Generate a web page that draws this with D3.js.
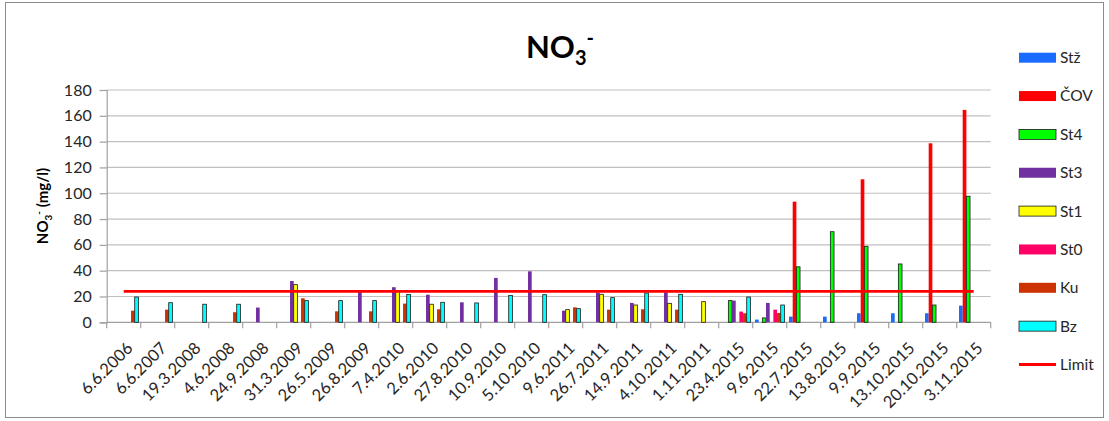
<!DOCTYPE html>
<html>
<head>
<meta charset="utf-8">
<script src="https://cdn.jsdelivr.net/npm/d3@7"></script>
<style>
  html, body { margin: 0; padding: 0; background: #fff; }
  svg { display: block; font-family: Lato, "Open Sans", sans-serif; }
</style>
</head>
<body>
<svg id="chart" width="1109" height="421"></svg>
<script>
// Sampling dates (categories)
const categories = [
  "6.6.2006", "6.6.2007", "19.3.2008", "4.6.2008", "24.9.2008", "31.3.2009",
  "26.5.2009", "26.8.2009", "7.4.2010", "2.6.2010", "27.8.2010", "10.9.2010",
  "5.10.2010", "9.6.2011", "26.7.2011", "14.9.2011", "4.10.2011", "1.11.2011",
  "23.4.2015", "9.6.2015", "22.7.2015", "13.8.2015", "9.9.2015", "13.10.2015",
  "20.10.2015", "3.11.2015"
];

// NO3- concentrations (mg/l) per sampling site; null = not sampled
const n = null;
const stz = [n, n, n, n, n, n, n, n, n, n, n, n, n, n, n, n, n, n, n, 2.1, 4.4, 4.4, 7.0, 7.0, 7.0, 12.9];
const cov = [n, n, n, n, n, n, n, n, n, n, n, n, n, n, n, n, n, n, n, n, 93.5, n, 110.8, n, 138.7, 164.6];
const st4 = [n, n, n, n, n, n, n, n, n, n, n, n, n, n, n, n, n, n, 16.8, 3.4, 43.0, 70.2, 58.9, 45.2, 13.4, 97.7];
const st3 = [n, n, n, n, 11.4, 32.0, n, 23.3, 27.2, 21.4, 15.5, 34.4, 39.5, 9.0, 23.3, 15.0, 23.3, n, 16.8, 15.0, n, n, n, n, n, n];
const st1 = [n, n, n, n, n, 29.2, n, n, 24.0, 14.0, n, n, n, 9.8, 21.7, 13.4, 14.7, 16.0, n, n, n, n, n, n, n, n];
const st0 = [n, n, n, n, n, n, n, n, n, n, n, n, n, n, n, n, n, n, 8.3, 9.8, n, n, n, n, n, n];
const ku  = [9.0, 9.8, n, 7.8, n, 18.6, 8.5, 8.5, 14.5, 10.1, n, n, n, 11.6, 9.8, 10.1, 9.8, n, 7.0, 7.2, n, n, n, n, n, n];
const bz  = [19.6, 15.2, 14.0, 14.0, n, 16.8, 16.8, 16.8, 21.5, 15.5, 15.0, 20.7, 21.4, 10.6, 19.1, 22.7, 21.7, n, 19.6, 13.4, n, n, n, n, n, n];

// Limit value (mg/l)
const limit = 24;

const seriesNames = ["Stž", "ČOV", "St4", "St3", "St1", "St0", "Ku", "Bz"];
const seriesValues = [stz, cov, st4, st3, st1, st0, ku, bz];
const seriesColors = ["#1a6cff", "#ff0000", "#00ff00", "#7030a0", "#ffff00", "#ff0066", "#cc3300", "#00ffff"];
const outlined = [false, false, true, false, true, false, false, true];

const yTicks = [0, 20, 40, 60, 80, 100, 120, 140, 160, 180];

const svg = d3.select("#chart");
const W = 1109, H = 421;
const plot = { left: 106.7, right: 990.7, top: 90, bottom: 322.3 };

// Chart frame
svg.append("rect")
  .attr("x", 5.5).attr("y", 2.5).attr("width", W - 11).attr("height", H - 6)
  .attr("fill", "#fff").attr("stroke", "#8c8c8c").attr("stroke-width", 1);

const x0 = d3.scaleBand().domain(categories).range([plot.left, plot.right]).paddingInner(0).paddingOuter(0);
const bw = x0.bandwidth();
const inset = bw * 0.068;
const x1 = d3.scaleBand().domain(seriesNames).range([inset, bw - inset]).padding(0);
const y = d3.scaleLinear().domain([0, 180]).range([plot.bottom, plot.top]);

// Gridlines
svg.append("g")
  .selectAll("line")
  .data(yTicks.filter(t => t > 0))
  .join("line")
  .attr("x1", plot.left).attr("x2", plot.right)
  .attr("y1", d => y(d)).attr("y2", d => y(d))
  .attr("stroke", "#c0c0c0").attr("stroke-width", 1.2);

// Y axis
const yAxis = svg.append("g")
  .attr("transform", `translate(${plot.left},0)`)
  .call(d3.axisLeft(y).tickValues(yTicks).tickSize(7).tickPadding(8));
yAxis.select(".domain").attr("stroke", "#a0a0a0").attr("stroke-width", 1.2);
yAxis.selectAll(".tick line").attr("stroke", "#a0a0a0").attr("stroke-width", 1.2);
yAxis.selectAll(".tick text")
  .attr("font-size", 16).attr("fill", "#262626")
  .attr("font-family", "Lato, sans-serif");

// X axis (category boundary ticks)
const xAxisG = svg.append("g");
xAxisG.append("line")
  .attr("x1", plot.left).attr("x2", plot.right)
  .attr("y1", plot.bottom).attr("y2", plot.bottom)
  .attr("stroke", "#a0a0a0").attr("stroke-width", 1.2);
const boundaries = categories.map(c => x0(c)).concat([x0(categories[categories.length - 1]) + bw]);
xAxisG.selectAll("line.tk")
  .data(boundaries)
  .join("line")
  .attr("class", "tk")
  .attr("x1", d => d).attr("x2", d => d)
  .attr("y1", plot.bottom).attr("y2", plot.bottom + 6)
  .attr("stroke", "#a0a0a0").attr("stroke-width", 1.2);
xAxisG.selectAll("text")
  .data(categories)
  .join("text")
  .attr("transform", d => `translate(${x0(d) + bw / 2 + 10},${plot.bottom + 27}) rotate(-45)`)
  .attr("text-anchor", "end")
  .attr("font-size", 16.5)
  .attr("fill", "#262626")
  .text(d => d);

// Bars
const barData = [];
seriesNames.forEach((s, si) => {
  seriesValues[si].forEach((v, ci) => {
    if (v != null) barData.push({ s, si, c: categories[ci], v });
  });
});
svg.append("g")
  .selectAll("rect")
  .data(barData)
  .join("rect")
  .attr("x", d => x0(d.c) + x1(d.s))
  .attr("y", d => y(d.v))
  .attr("width", x1.bandwidth())
  .attr("height", d => y(0) - y(d.v))
  .attr("fill", d => seriesColors[d.si])
  .attr("stroke", d => outlined[d.si] ? "#1a1a1a" : "none")
  .attr("stroke-width", 0.8);

// Limit line
svg.append("line")
  .attr("x1", x0(categories[0]) + bw / 2)
  .attr("x2", x0(categories[categories.length - 1]) + bw / 2)
  .attr("y1", y(limit)).attr("y2", y(limit))
  .attr("stroke", "#ff0000").attr("stroke-width", 2.8);

// Title
const title = svg.append("text")
  .attr("x", 560).attr("y", 58)
  .attr("text-anchor", "middle")
  .attr("font-size", 31).attr("font-weight", "bold").attr("fill", "#000");
title.append("tspan").text("NO");
title.append("tspan").attr("font-size", 20).attr("dy", 7).text("3");
title.append("tspan").attr("font-size", 20).attr("dy", -20).text("-");

// Y axis title
const yTitle = svg.append("text")
  .attr("transform", "translate(48,206) rotate(-90)")
  .attr("text-anchor", "middle")
  .attr("font-size", 15).attr("font-weight", "bold").attr("fill", "#000");
yTitle.append("tspan").text("NO");
yTitle.append("tspan").attr("font-size", 10).attr("dy", 4).text("3");
yTitle.append("tspan").attr("font-size", 10).attr("dy", -10).text("-");
yTitle.append("tspan").attr("dy", 6).text(" (mg/l)");

// Legend
const legendNames = seriesNames.concat(["Limit"]);
const ly = d3.scalePoint().domain(legendNames).range([57.7, 364.5]);
const legend = svg.append("g");
const items = legend.selectAll("g")
  .data(legendNames)
  .join("g")
  .attr("transform", d => `translate(1019,${ly(d)})`);
items.filter((d, i) => i < seriesNames.length)
  .append("rect")
  .attr("x", 0).attr("y", -5).attr("width", 37).attr("height", 10)
  .attr("fill", (d, i) => seriesColors[i])
  .attr("stroke", (d, i) => outlined[i] ? "#1a1a1a" : "none")
  .attr("stroke-width", 0.8);
items.filter(d => d === "Limit")
  .append("line")
  .attr("x1", 0).attr("x2", 37).attr("y1", 0).attr("y2", 0)
  .attr("stroke", "#ff0000").attr("stroke-width", 2.8);
items.append("text")
  .attr("x", 41).attr("y", 0).attr("dy", "0.35em")
  .attr("font-size", 15.5).attr("fill", "#262626")
  .text(d => d);
</script>
</body>
</html>
